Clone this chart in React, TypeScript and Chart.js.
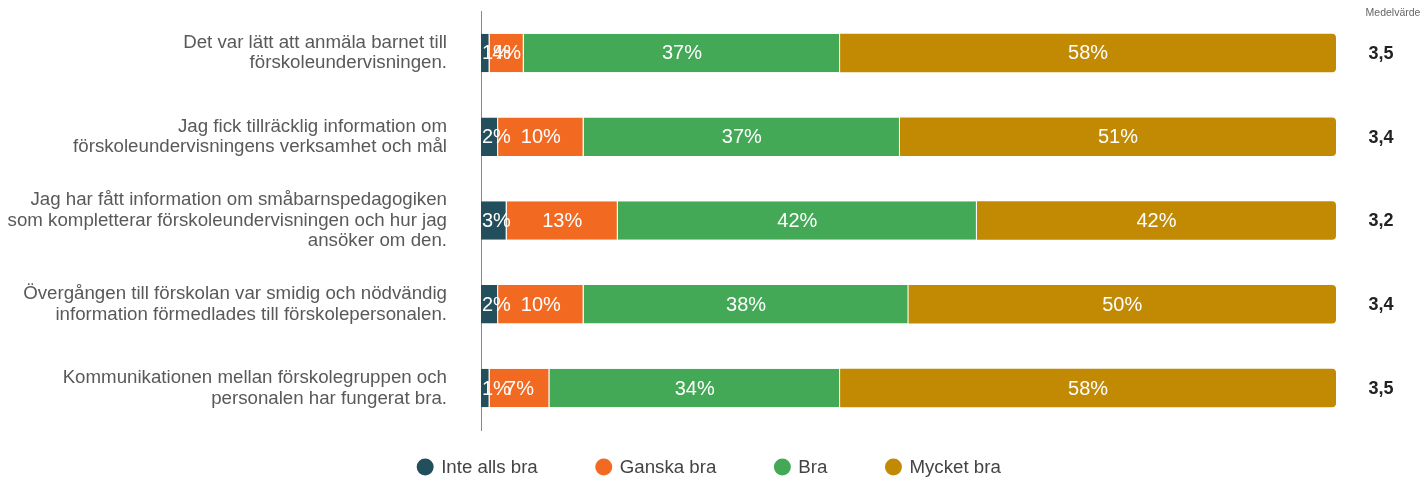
import React, { useEffect, useRef } from "react";
import { Chart, registerables } from "chart.js";

Chart.register(...registerables);

const categories: string[][] = [
  ["Det var lätt att anmäla barnet till", "förskoleundervisningen."],
  ["Jag fick tillräcklig information om", "förskoleundervisningens verksamhet och mål"],
  ["Jag har fått information om småbarnspedagogiken", "som kompletterar förskoleundervisningen och hur jag", "ansöker om den."],
  ["Övergången till förskolan var smidig och nödvändig", "information förmedlades till förskolepersonalen."],
  ["Kommunikationen mellan förskolegruppen och", "personalen har fungerat bra."],
];

const seriesNames = ["Inte alls bra", "Ganska bra", "Bra", "Mycket bra"];
const inteAllsBra = [1, 2, 3, 2, 1];
const ganskaBra = [4, 10, 13, 10, 7];
const bra = [37, 37, 42, 38, 34];
const mycketBra = [58, 51, 42, 50, 58];
const medelvarde = ["3,5", "3,4", "3,2", "3,4", "3,5"];
const medelTitle = "Medelvärde";
const colors = ["#234e5c", "#f26a22", "#44a957", "#c18a02"];

const FONT = "'Liberation Sans', Arial, sans-serif";
const TEXT_SIZE = 18.7;

export default function App() {
  const ref = useRef<HTMLCanvasElement | null>(null);
  useEffect(() => {
    if (!ref.current) return;
    const values = [inteAllsBra, ganskaBra, bra, mycketBra];
    const overlay = {
      id: "overlay",
      afterDatasetsDraw(chart: any) {
        const ctx = chart.ctx;
        const area = chart.chartArea;
        ctx.save();
        // segment labels
        ctx.fillStyle = "#ffffff";
        ctx.font = `20px ${FONT}`;
        ctx.textAlign = "left";
        ctx.textBaseline = "middle";
        chart.data.datasets.forEach((ds: any, di: number) => {
          const meta = chart.getDatasetMeta(di);
          meta.data.forEach((el: any, i: number) => {
            const txt = `${ds.data[i]}%`;
            const w = ctx.measureText(txt).width;
            const cx = (el.x + el.base) / 2;
            const lx = Math.max(cx - w / 2, area.left + 1);
            ctx.fillText(txt, lx, el.y + 1);
          });
        });
        // mean values
        const yScale = chart.scales.y;
        ctx.textAlign = "center";
        ctx.fillStyle = "#222222";
        ctx.font = `bold 18px ${FONT}`;
        medelvarde.forEach((m, i) => {
          ctx.fillText(m, 1381, yScale.getPixelForValue(i) + 1);
        });
        ctx.fillStyle = "#666666";
        ctx.font = `10.5px ${FONT}`;
        ctx.fillText(medelTitle, 1393, 13);
        // legend
        ctx.font = `${TEXT_SIZE}px ${FONT}`;
        const widths = seriesNames.map((n) => ctx.measureText(n).width);
        const gap = 58;
        const total = widths.reduce((a, w) => a + 24 + w, 0) + gap * (seriesNames.length - 1);
        let x = (chart.width - total) / 2 - 2;
        const ly = 467;
        seriesNames.forEach((n, i) => {
          ctx.beginPath();
          ctx.fillStyle = colors[i];
          ctx.arc(x + 8, ly, 8.5, 0, Math.PI * 2);
          ctx.fill();
          ctx.fillStyle = "#444444";
          ctx.textAlign = "left";
          ctx.fillText(n, x + 24, ly + 1);
          x += 24 + widths[i] + gap;
        });
        ctx.restore();
      },
    };
    const chart = new Chart(ref.current, {
      type: "bar",
      data: {
        labels: categories,
        datasets: seriesNames.map((name, i) => ({
          label: name,
          data: values[i],
          backgroundColor: colors[i],
          borderColor: "rgba(255,255,255,0.85)",
          borderWidth: i < 3 ? { right: 1, left: 0, top: 0, bottom: 0 } : 0,
          borderSkipped: false,
          borderRadius: i === 3 ? { topRight: 4, bottomRight: 4, topLeft: 0, bottomLeft: 0 } : 0,
          barPercentage: 0.46,
          categoryPercentage: 1,
        })),
      },
      options: {
        indexAxis: "y",
        animation: false,
        responsive: true,
        maintainAspectRatio: false,
        layout: { padding: { top: 11, right: 86, bottom: 49, left: 0 } },
        plugins: {
          legend: { display: false },
          tooltip: { enabled: false },
        },
        scales: {
          x: {
            stacked: true,
            min: 0,
            max: 100,
            display: false,
            grid: { display: false },
          },
          y: {
            stacked: true,
            grid: { display: false, drawTicks: false },
            border: { display: true, color: "#888888", width: 1 },
            ticks: {
              color: "#595959",
              font: { family: FONT, size: TEXT_SIZE, lineHeight: 1.1 },
              padding: 34,
            },
            afterFit: (s: any) => {
              s.width = 481;
              s.paddingTop = 0;
              s.paddingBottom = 0;
            },
          },
        },
      },
      plugins: [overlay],
    } as any);
    return () => chart.destroy();
  }, []);
  return (
    <div style={{ position: "absolute", left: 0, top: 0, width: 1422, height: 479, overflow: "hidden" }}>
      <canvas ref={ref} />
    </div>
  );
}
